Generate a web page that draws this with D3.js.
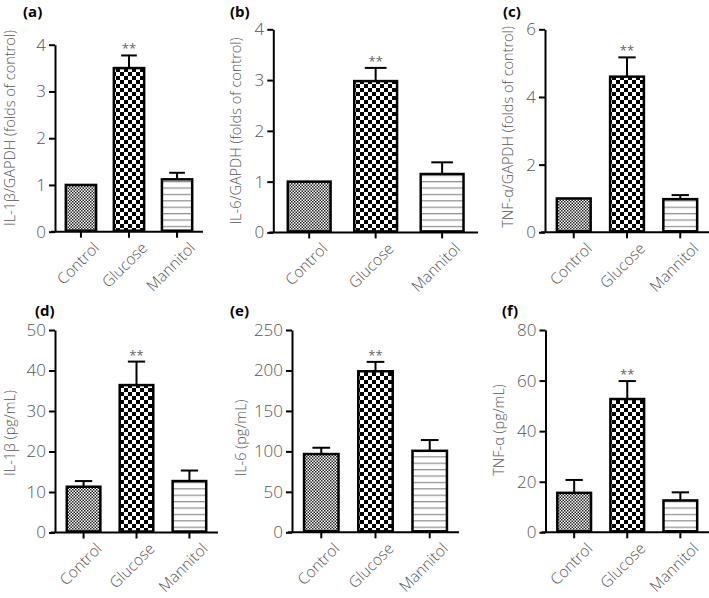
<!DOCTYPE html>
<html>
<head>
<meta charset="utf-8">
<script src="https://cdn.jsdelivr.net/npm/d3@7"></script>
<style>
  body { margin: 0; background: #fff; }
  text { font-family: "Open Sans", "Noto Sans", sans-serif; }
</style>
</head>
<body>
<svg id="fig" width="709" height="598"></svg>
<script>
// groups on the x axis
var groups = ["Control", "Glucose", "Mannitol"];

// mRNA, folds of control
var il1bMrna = [1, 3.5, 1.12];
var il1bMrnaErr = [0, 0.27, 0.14];
var il6Mrna = [1, 2.98, 1.15];
var il6MrnaErr = [0, 0.26, 0.23];
var tnfMrna = [1, 4.6, 0.98];
var tnfMrnaErr = [0, 0.57, 0.12];

// secreted protein, pg/mL
var il1bProt = [11.3, 36.4, 12.7];
var il1bProtErr = [1.4, 5.8, 2.6];
var il6Prot = [96.7, 199, 100.7];
var il6ProtErr = [7.8, 11.6, 13.3];
var tnfProt = [15.6, 52.7, 12.6];
var tnfProtErr = [5.1, 7.1, 3.2];

// y ticks
var ticksA = [0, 1, 2, 3, 4];
var ticksB = [0, 1, 2, 3, 4];
var ticksC = [0, 2, 4, 6];
var ticksD = [0, 10, 20, 30, 40, 50];
var ticksE = [0, 50, 100, 150, 200, 250];
var ticksF = [0, 20, 40, 60, 80];

var svg = d3.select("#fig");

// fill patterns
var defs = svg.append("defs");
var fine = defs.append("pattern").attr("id", "pFine")
  .attr("patternUnits", "userSpaceOnUse").attr("width", 3).attr("height", 3);
fine.append("rect").attr("width", 3).attr("height", 3).attr("fill", "#fff");
fine.append("rect").attr("width", 1.5).attr("height", 1.5).attr("fill", "#222");
fine.append("rect").attr("x", 1.5).attr("y", 1.5).attr("width", 1.5).attr("height", 1.5).attr("fill", "#222");

var check = defs.append("pattern").attr("id", "pCheck")
  .attr("patternUnits", "userSpaceOnUse").attr("width", 8).attr("height", 8);
check.append("rect").attr("width", 8).attr("height", 8).attr("fill", "#fff");
check.append("rect").attr("width", 4).attr("height", 4).attr("fill", "#000");
check.append("rect").attr("x", 4).attr("y", 4).attr("width", 4).attr("height", 4).attr("fill", "#000");

var lines = defs.append("pattern").attr("id", "pLines")
  .attr("patternUnits", "userSpaceOnUse").attr("width", 8).attr("height", 6.4);
lines.append("rect").attr("width", 8).attr("height", 6.4).attr("fill", "#fff");
lines.append("rect").attr("y", 2).attr("width", 8).attr("height", 1).attr("fill", "#777");

var fills = ["url(#pFine)", "url(#pCheck)", "url(#pLines)"];

var panels = [
  {tag: "(a)", vals: il1bMrna, errs: il1bMrnaErr, ticks: ticksA, max: 4,
   x: [55, 203], y: [231.7, 44.7], title: "IL-1β/GAPDH (folds of control)", tx: 10, ty: 128, lx: 23, ly: 17},
  {tag: "(b)", vals: il6Mrna, errs: il6MrnaErr, ticks: ticksB, max: 4,
   x: [273.3, 478], y: [232.4, 29.3], title: "IL-6/GAPDH (folds of control)", tx: 236, ty: 131, lx: 230, ly: 17},
  {tag: "(c)", vals: tnfMrna, errs: tnfMrnaErr, ticks: ticksC, max: 6,
   x: [545, 709], y: [232.3, 29.3], title: "TNF-α/GAPDH (folds of control)", tx: 508, ty: 127, lx: 503, ly: 17},
  {tag: "(d)", vals: il1bProt, errs: il1bProtErr, ticks: ticksD, max: 50,
   x: [55, 218], y: [532.5, 330], title: "IL-1β (pg/mL)", tx: 10, ty: 433, lx: 35, ly: 316},
  {tag: "(e)", vals: il6Prot, errs: il6ProtErr, ticks: ticksE, max: 250,
   x: [292, 459], y: [532.3, 330], title: "IL-6 (pg/mL)", tx: 241, ty: 438, lx: 230, ly: 316},
  {tag: "(f)", vals: tnfProt, errs: tnfProtErr, ticks: ticksF, max: 80,
   x: [545.5, 709], y: [532.3, 330], title: "TNF-α (pg/mL)", tx: 499, ty: 430, lx: 502, ly: 316}
];

panels.forEach(function(p) {
  var g = svg.append("g");
  var x = d3.scaleBand().domain(groups).range(p.x).paddingInner(0.32).paddingOuter(0.2);
  var y = d3.scaleLinear().domain([0, p.max]).range(p.y);
  var rows = groups.map(function(k, i) { return {k: k, v: p.vals[i], e: p.errs[i], i: i}; });

  // error bars (upper only)
  var cap = x.bandwidth() * 0.24;
  var eb = g.selectAll(".err").data(rows.filter(function(d) { return d.e > 0; }))
    .enter().append("g").attr("class", "err")
    .attr("stroke", "#000").attr("stroke-width", 2);
  eb.append("line")
    .attr("x1", function(d) { return x(d.k) + x.bandwidth() / 2; })
    .attr("x2", function(d) { return x(d.k) + x.bandwidth() / 2; })
    .attr("y1", function(d) { return y(d.v); })
    .attr("y2", function(d) { return y(d.v + d.e); });
  eb.append("line")
    .attr("x1", function(d) { return x(d.k) + x.bandwidth() / 2 - cap; })
    .attr("x2", function(d) { return x(d.k) + x.bandwidth() / 2 + cap; })
    .attr("y1", function(d) { return y(d.v + d.e); })
    .attr("y2", function(d) { return y(d.v + d.e); });

  // bars
  g.selectAll(".bar").data(rows).enter().append("rect")
    .attr("class", "bar")
    .attr("x", function(d) { return x(d.k) + 1.2; })
    .attr("width", x.bandwidth() - 2.4)
    .attr("y", function(d) { return y(d.v); })
    .attr("height", function(d) { return y(0) - y(d.v) - 1; })
    .attr("fill", function(d) { return fills[d.i]; })
    .attr("stroke", "#000").attr("stroke-width", 2.5);

  // significance mark over glucose
  var gl = rows[1];
  g.append("text")
    .attr("x", x(gl.k) + x.bandwidth() / 2)
    .attr("y", y(gl.v + gl.e) - 2)
    .attr("text-anchor", "middle")
    .attr("font-size", 13).attr("fill", "#666")
    .text("**");

  // y axis
  var ya = g.append("g").attr("transform", "translate(" + p.x[0] + ",0)")
    .call(d3.axisLeft(y).tickValues(p.ticks).tickFormat(d3.format("d"))
      .tickSize(6).tickPadding(3).tickSizeOuter(0));
  ya.select(".domain").attr("stroke-width", 2);
  ya.selectAll(".tick line").attr("stroke-width", 2);
  ya.selectAll(".tick text").attr("font-size", 17).attr("font-weight", 300)
    .attr("fill", "#555").style("font-family", "'Open Sans', sans-serif");

  // x axis
  var xa = g.append("g").attr("transform", "translate(0," + p.y[0] + ")")
    .call(d3.axisBottom(x).tickSize(6).tickSizeOuter(0));
  xa.select(".domain").attr("stroke-width", 2)
    .attr("d", "M" + (p.x[0] - 4) + ",0H" + p.x[1]);
  xa.selectAll(".tick line").attr("stroke-width", 2);
  xa.selectAll(".tick text")
    .attr("font-size", 15.5).attr("font-weight", 300).attr("fill", "#555")
    .style("font-family", "'Open Sans', sans-serif")
    .attr("text-anchor", "end")
    .attr("dy", "0.35em")
    .attr("transform", "translate(9,7) rotate(-45)");

  // y title
  g.append("text")
    .attr("transform", "translate(" + p.tx + "," + p.ty + ") rotate(-90)")
    .attr("text-anchor", "middle").attr("dy", "0.35em")
    .attr("font-size", 14.5).attr("font-weight", 300).attr("fill", "#555")
    .text(p.title);

  // panel letter
  g.append("text").attr("x", p.lx).attr("y", p.ly)
    .attr("font-size", 15).attr("font-weight", "bold").attr("fill", "#000")
    .text(p.tag);
});
</script>
</body>
</html>
